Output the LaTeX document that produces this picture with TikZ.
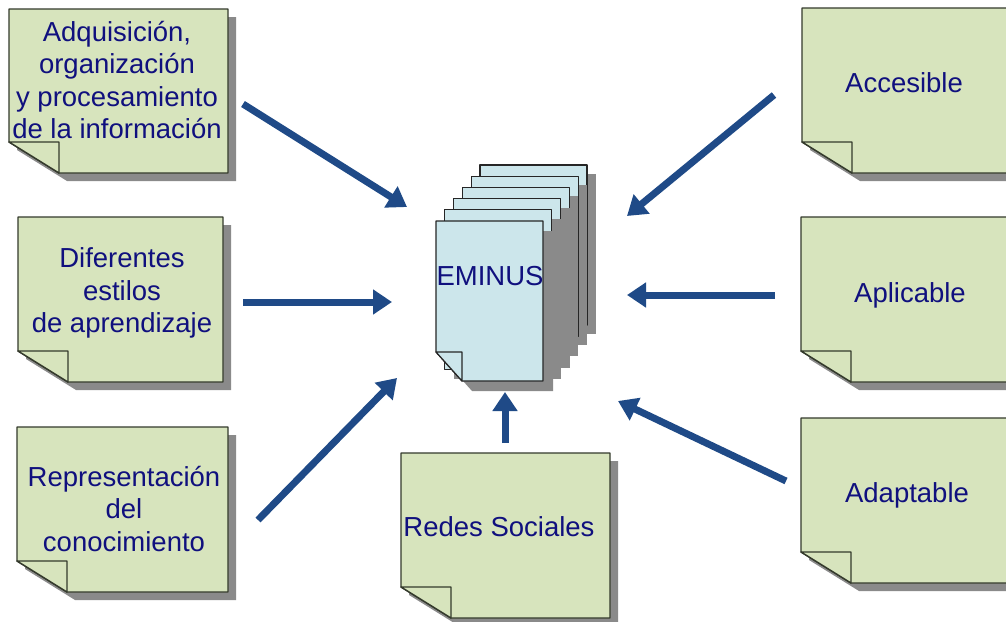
\documentclass[tikz,border=0pt]{standalone}
\usepackage{fontspec}
\setmainfont{Liberation Sans}
\usetikzlibrary{arrows.meta}
\definecolor{notefill}{HTML}{D7E4BD}
\definecolor{pagefill}{HTML}{CCE6EB}
\definecolor{shadowc}{HTML}{8A8A8A}
\definecolor{edgec}{HTML}{343A2C}
\definecolor{txt}{HTML}{10107E}
\definecolor{arrowc}{HTML}{1F4A87}
\tikzset{
  notebody/.style={fill=notefill, draw=edgec, line width=1.4pt, line join=round},
  pagebody/.style={fill=pagefill, draw=black!85, line width=1.2pt, line join=round},
  lbl/.style={text=txt, font=\fontsize{27.5}{32.5}\selectfont, align=center, inner sep=0pt},
  conn/.style={draw=arrowc, line width=7pt, -{Triangle[length=19pt,width=24pt,fill=arrowc]}}
}
% sticky note: left, top, right, bottom (pixel coordinates)
\newcommand{\stickynote}[4]{%
  \fill[shadowc] ({#1+8},{#2+8}) -- ({#3+8},{#2+8}) -- ({#3+8},{#4+8}) -- ({#1+58},{#4+8}) -- ({#1+8},{#4-23}) -- cycle;
  \filldraw[notebody] (#1,#2) -- (#3,#2) -- (#3,#4) -- ({#1+50},#4) -- (#1,{#4-31}) -- cycle;
  \filldraw[notebody] (#1,{#4-31}) -- ({#1+50},{#4-31}) -- ({#1+50},#4) -- cycle;
}
% stack page: left, top
\newcommand{\stackpage}[2]{%
  \fill[shadowc] ({#1+9},{#2+9}) rectangle ({#1+116},{#2+169});
  \filldraw[pagebody] (#1,#2) rectangle ({#1+107},{#2+160});
}
\begin{document}
\begin{tikzpicture}[x=1pt,y=-1pt]
\useasboundingbox (0,0) rectangle (1006,621);
\clip (0,0) rectangle (1006,621);
\fill[white] (0,0) rectangle (1006,621);

% notes
\stickynote{9}{9}{228}{173}
\stickynote{18}{217}{223}{382}
\stickynote{17}{427}{228}{592}
\stickynote{802}{8}{1015}{173}
\stickynote{801}{217}{1015}{382}
\stickynote{801}{418}{1015}{583}
\stickynote{401}{453}{610}{618}

% EMINUS stack (back to front)
\stackpage{480}{165}
\stackpage{471.2}{176.2}
\stackpage{462.4}{187.4}
\stackpage{453.6}{198.6}
\stackpage{444.8}{209.8}
\fill[shadowc] (446,231) -- (553,231) -- (553,391) -- (472,391) -- (446,362) -- cycle;
\filldraw[pagebody] (436,221) -- (543,221) -- (543,381) -- (462,381) -- (436,352) -- cycle;
\filldraw[pagebody] (436,352) -- (462,352) -- (462,381) -- cycle;

% labels
\node[lbl] (t1) at (117,80) {Adquisición,\\organización\\y procesamiento\\de la información};
\node[lbl] (t2) at (122,293) {Diferentes\\estilos\\de aprendizaje};
\node[lbl] (t3) at (124,509) {Representación\\del\\conocimiento};
\node[lbl, anchor=base] (t4) at (904,92) {Accesible};
\node[lbl, anchor=base] (t5) at (910,302) {Aplicable};
\node[lbl, anchor=base] (t6) at (907,502) {Adaptable};
\node[lbl, anchor=base] (t7) at (499,536) {Redes Sociales};
\node[lbl, anchor=base] (em) at (490,285) {EMINUS};

% arrow end points
\coordinate (a1s) at (243,104); \coordinate (a1e) at (407,207);
\coordinate (a2s) at (243,302); \coordinate (a2e) at (392,302);
\coordinate (a3s) at (258,520); \coordinate (a3e) at (397,378);
\coordinate (a4s) at (774,95);  \coordinate (a4e) at (627,216);
\coordinate (a5s) at (775,295); \coordinate (a5e) at (627,295);
\coordinate (a6s) at (786,481); \coordinate (a6e) at (618,401);
\coordinate (a7s) at (505,443); \coordinate (a7e) at (505,392);

\draw[conn] (a1s) -- (a1e);
\draw[conn] (a2s) -- (a2e);
\draw[conn] (a3s) -- (a3e);
\draw[conn] (a4s) -- (a4e);
\draw[conn] (a5s) -- (a5e);
\draw[conn] (a6s) -- (a6e);
\draw[conn] (a7s) -- (a7e);
\end{tikzpicture}
\end{document}
